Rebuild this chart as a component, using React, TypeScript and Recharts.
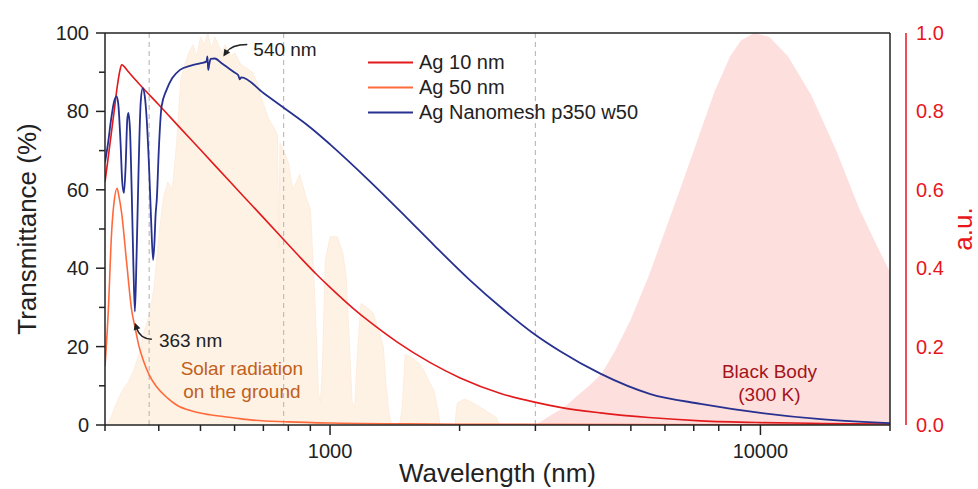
import { ComposedChart, Line, Area, XAxis, YAxis, ReferenceLine, ReferenceDot, Legend } from 'recharts'

const FONT = '"Liberation Sans", Arial, sans-serif'
const INK = '#222'
const AXIS_RED = '#e8151b'

// Ag 10 nm film, transmittance (%)
const ag10Wl = [300, 305, 310, 315, 320, 325, 328, 332, 340, 368, 400, 450, 500, 585, 650, 700, 779, 850, 931, 1000, 1133, 1250, 1430, 1709, 2006, 2500, 2969, 3426, 4247, 5500, 7260, 10000, 14000, 20000]
const ag10T = [62, 68, 74, 80, 86, 90.5, 91.9, 91.5, 90.1, 85.9, 81.7, 75.6, 70.2, 62.1, 56.7, 52.9, 47.4, 42.9, 38.4, 35.1, 29.7, 25.9, 21.2, 15.9, 12.0, 8.0, 5.9, 4.5, 3.1, 1.9, 1.05, 0.6, 0.4, 0.25]

// Ag 50 nm film
const ag50Wl = [300, 305, 311, 315, 320, 323, 328, 337, 346, 352, 360, 368, 380, 395, 420, 440, 480, 526, 600, 652, 800, 1000, 1500, 2000, 5000, 20000]
const ag50T = [15, 28, 49.7, 57, 60.4, 58.5, 54, 41.2, 29.3, 25.1, 20, 16.6, 12.8, 9.8, 6.8, 5.1, 3.5, 2.6, 1.8, 1.3, 0.8, 0.5, 0.3, 0.2, 0.1, 0.05]

// Ag nanomesh p350 w50
const meshWl = [300, 305, 310, 315, 319, 322, 326, 329, 332, 335, 338, 340, 343, 346, 349, 352, 355, 359, 363, 367, 371, 375, 380, 384, 388, 391, 393, 396, 400, 406, 417, 430, 448, 475, 501, 516, 519, 521, 524, 528, 540, 560, 600, 612, 617, 622, 700, 779, 900, 1000, 1239, 1500, 1750, 2116, 2500, 2964, 3426, 4247, 5550, 7260, 10000, 13800, 20000]
const meshT = [67, 72, 78, 82.5, 83.8, 82, 72, 62, 59.2, 66, 78, 79.6, 75, 60, 42, 28.9, 42, 65, 82, 85.9, 84, 78, 65, 52, 42.1, 47, 53.1, 58, 70, 81.2, 85.5, 88.5, 90.6, 91.7, 92.3, 92.7, 94, 90.6, 92, 93.4, 93.5, 92.3, 89.9, 89.2, 88.2, 88.7, 84.7, 81.0, 75.9, 71.6, 62.1, 53.1, 45.7, 36.9, 29.9, 23.4, 18.8, 13.1, 7.9, 5.4, 3.1, 1.5, 0.5]

// AM1.5 solar spectrum on the ground (arbitrary, drawn on the left scale)
const solarWl = [300, 305, 310, 320, 330, 340, 350, 360, 370, 380, 390, 400, 410, 420, 430, 440, 450, 460, 470, 480, 490, 500, 510, 520, 530, 540, 550, 560, 570, 590, 600, 620, 640, 660, 680, 690, 700, 720, 740, 755, 760, 765, 780, 800, 820, 850, 880, 900, 915, 930, 940, 950, 960, 975, 1000, 1040, 1070, 1090, 1110, 1125, 1140, 1160, 1180, 1220, 1260, 1300, 1330, 1350, 1370, 1390, 1450, 1470, 1495, 1540, 1600, 1650, 1700, 1740, 1780, 1800, 1950, 1975, 2050, 2100, 2230, 2350, 2430, 2480, 20000]
const solarV = [0, 0.5, 2, 6, 9, 11, 14, 18, 24, 28, 35, 48, 58, 62, 60, 72, 88, 92, 95, 97, 94, 99, 97, 100, 96, 99, 97, 95, 97, 94, 95, 92, 91, 90, 87, 84, 82, 78, 76, 74, 45, 72, 70, 67, 60, 64, 58, 55, 40, 22, 8, 6, 15, 42, 48, 48, 44, 38, 20, 6, 4, 20, 31, 30, 28.6, 24, 20, 10, 3, 0, 0, 4, 18, 17.4, 16, 14, 11, 9, 4, 0, 0, 5.6, 6.6, 6.2, 4.6, 3, 2, 0, 0]

// 300 K black body, normalised (right scale)
const bbWl = [3000, 3200, 3500, 3800, 4000, 4270, 4600, 5000, 5500, 5890, 6500, 7000, 7820, 8500, 9000, 9660, 10500, 11600, 13150, 15000, 17000, 18600, 20000]
const bbV = [0, 0.02, 0.045, 0.08, 0.1, 0.13, 0.19, 0.27, 0.38, 0.47, 0.6, 0.7, 0.85, 0.94, 0.98, 1.0, 0.99, 0.94, 0.84, 0.7, 0.55, 0.46, 0.39]

const xTicks = [300, 400, 500, 600, 700, 800, 900, 1000, 2000, 3000, 4000, 5000, 6000, 7000, 8000, 9000, 10000, 20000]
const xLabeled = [1000, 10000]
const leftTicks = [0, 10, 20, 30, 40, 50, 60, 70, 80, 90, 100]
const rightTicks = [0, 0.2, 0.4, 0.6, 0.8, 1.0]
const regionNames = ['UV', 'VIS', 'NIR', 'MIR']
const regionCenters = [339, 526, 1518, 8650]
const regionBounds = [380, 780, 3000]

const seriesNames = ['Ag 10 nm', 'Ag 50 nm', 'Ag Nanomesh p350 w50']
const seriesColors = ['#e31a1c', '#ff6a3d', '#27318f']

const toPoints = (wl: number[], vals: number[]) => wl.map((w, i) => ({ wl: w, v: vals[i] }))

function BottomTick({ x, y, payload }: any) {
  const major = xLabeled.includes(payload.value)
  return (
    <g>
      <line x1={x} x2={x} y1={y} y2={y + (major ? 10 : 6)} stroke={INK} strokeWidth={1.5} />
      {major && (
        <text x={x} y={y + 33} textAnchor="middle" fontSize={20} fontFamily={FONT} fill={INK}>
          {payload.value}
        </text>
      )}
    </g>
  )
}

function TopTick({ x, y, index }: any) {
  return (
    <text x={x} y={y - 7} textAnchor="middle" fontSize={16} fontFamily={FONT} fill={INK}>
      {regionNames[index]}
    </text>
  )
}

function LeftTick({ x, y, payload }: any) {
  const major = payload.value % 20 === 0
  return (
    <g>
      <line x1={x - (major ? 9 : 6)} x2={x} y1={y} y2={y} stroke={INK} strokeWidth={1.5} />
      {major && (
        <text x={x - 16} y={y} dy="0.35em" textAnchor="end" fontSize={20} fontFamily={FONT} fill={INK}>
          {payload.value}
        </text>
      )}
    </g>
  )
}

function RightTick({ x, y, payload }: any) {
  return (
    <text x={x + 10} y={y} dy="0.35em" textAnchor="start" fontSize={20} fontFamily={FONT} fill={AXIS_RED}>
      {payload.value.toFixed(1)}
    </text>
  )
}

const rotatedLabel = (text: string, dx: number, color: string) => (props: any) => {
  const { x, y, height } = props.viewBox
  const cx = x + dx
  const cy = y + height / 2
  return (
    <text x={cx} y={cy} dy="0.35em" textAnchor="middle" fontSize={26} fontFamily={FONT} fill={color} transform={`rotate(-90 ${cx} ${cy})`}>
      {text}
    </text>
  )
}

function LegendBox() {
  return (
    <div style={{ fontFamily: FONT, fontSize: 20, color: INK, lineHeight: '25px' }}>
      {seriesNames.map((name, i) => (
        <div key={name} style={{ display: 'flex', alignItems: 'center', height: 25, whiteSpace: 'nowrap' }}>
          <svg width={51} height={25}>
            <line x1={0} x2={45} y1={12.5} y2={12.5} stroke={seriesColors[i]} strokeWidth={2} />
          </svg>
          <span>{name}</span>
        </div>
      ))}
    </div>
  )
}

const arrow540 = ({ cx, cy }: any) => (
  <g>
    <path d={`M ${cx + 24} ${cy - 12} Q ${cx + 8} ${cy - 12} ${cx + 3} ${cy - 4}`} fill="none" stroke={INK} strokeWidth={1.5} />
    <polygon points={`${cx},${cy} ${cx + 6.8},${cy - 3.9} ${cx + 1},${cy - 7.7}`} fill={INK} />
    <text x={cx + 30} y={cy - 1} fontSize={19} fontFamily={FONT} fill={INK}>540 nm</text>
  </g>
)

const arrow363 = ({ cx, cy }: any) => (
  <g>
    <path d={`M ${cx + 17} ${cy + 16.6} Q ${cx + 5} ${cy + 16} ${cx + 1.5} ${cy + 5}`} fill="none" stroke={INK} strokeWidth={1.5} />
    <polygon points={`${cx},${cy} ${cx + 5.5},${cy + 5.5} ${cx - 1.1},${cy + 7.7}`} fill={INK} />
    <text x={cx + 24} y={cy + 24} fontSize={19} fontFamily={FONT} fill={INK}>363 nm</text>
  </g>
)

const twoLines = (a: string, b: string, color: string) => ({ cx, cy }: any) => (
  <text x={cx} y={cy} textAnchor="middle" fontSize={19} fontFamily={FONT} fill={color}>
    <tspan x={cx} dy={0}>{a}</tspan>
    <tspan x={cx} dy={23}>{b}</tspan>
  </text>
)

export default function App() {
  return (
    <div style={{ width: 978, height: 489 }}>
      <style>{'body{margin:0}'}</style>
      <ComposedChart width={978} height={489} margin={{ top: 13, right: 0, bottom: 0, left: 0 }}>
        <XAxis
          xAxisId="b"
          type="number"
          dataKey="wl"
          scale="log"
          domain={[300, 20000]}
          allowDataOverflow
          ticks={xTicks}
          interval={0}
          height={64}
          tickSize={0}
          tickMargin={0}
          tick={<BottomTick />}
          axisLine={{ stroke: INK, strokeWidth: 1.5 }}
          label={{ value: 'Wavelength (nm)', position: 'insideBottom', offset: 7, fontSize: 26, fontFamily: FONT, fill: INK }}
        />
        <XAxis
          xAxisId="t"
          orientation="top"
          type="number"
          scale="log"
          domain={[300, 20000]}
          allowDataOverflow
          ticks={regionCenters}
          interval={0}
          height={20}
          tickSize={0}
          tickMargin={0}
          tick={<TopTick />}
          axisLine={{ stroke: INK, strokeWidth: 1.5 }}
        />
        <YAxis
          yAxisId="left"
          type="number"
          domain={[0, 100]}
          allowDataOverflow
          ticks={leftTicks}
          interval={0}
          width={105}
          tickSize={0}
          tickMargin={0}
          tick={<LeftTick />}
          axisLine={{ stroke: INK, strokeWidth: 1.5 }}
          label={{ content: rotatedLabel('Transmittance (%)', 27, INK) }}
        />
        <YAxis
          yAxisId="frame"
          orientation="right"
          type="number"
          domain={[0, 1]}
          width={16}
          tick={false}
          tickLine={false}
          axisLine={{ stroke: INK, strokeWidth: 1.5 }}
        />
        <YAxis
          yAxisId="right"
          orientation="right"
          type="number"
          domain={[0, 1]}
          allowDataOverflow
          ticks={rightTicks}
          interval={0}
          width={72}
          tickSize={0}
          tickMargin={0}
          tickLine={false}
          tick={<RightTick />}
          axisLine={{ stroke: AXIS_RED, strokeWidth: 1.5 }}
          label={{ content: rotatedLabel('a.u.', 57, AXIS_RED) }}
        />

        <Area
          xAxisId="b"
          yAxisId="left"
          data={toPoints(solarWl, solarV)}
          dataKey="v"
          type="linear"
          fill="#fef2e5"
          fillOpacity={1}
          stroke="#fdeada"
          strokeWidth={0.8}
          isAnimationActive={false}
        />
        <Area
          xAxisId="b"
          yAxisId="right"
          data={toPoints(bbWl, bbV)}
          dataKey="v"
          type="linear"
          fill="#fde0dd"
          fillOpacity={1}
          stroke="none"
          isAnimationActive={false}
        />
        {regionBounds.map((w) => (
          <ReferenceLine key={w} xAxisId="b" yAxisId="left" x={w} stroke="#bdbdbd" strokeDasharray="5 4" strokeWidth={1.2} />
        ))}

        <Line xAxisId="b" yAxisId="left" data={toPoints(ag10Wl, ag10T)} dataKey="v" name={seriesNames[0]} type="monotone" stroke={seriesColors[0]} strokeWidth={1.6} dot={false} isAnimationActive={false} />
        <Line xAxisId="b" yAxisId="left" data={toPoints(ag50Wl, ag50T)} dataKey="v" name={seriesNames[1]} type="monotone" stroke={seriesColors[1]} strokeWidth={1.6} dot={false} isAnimationActive={false} />
        <Line xAxisId="b" yAxisId="left" data={toPoints(meshWl, meshT)} dataKey="v" name={seriesNames[2]} type="monotone" stroke={seriesColors[2]} strokeWidth={1.8} dot={false} isAnimationActive={false} />

        <ReferenceDot xAxisId="b" yAxisId="left" x={565} y={94} shape={arrow540} />
        <ReferenceDot xAxisId="b" yAxisId="left" x={352} y={26.1} shape={arrow363} />
        <ReferenceDot xAxisId="b" yAxisId="left" x={624} y={12.8} shape={twoLines('Solar radiation', 'on the ground', '#c0601a')} />
        <ReferenceDot xAxisId="b" yAxisId="left" x={10494} y={12} shape={twoLines('Black Body', '(300 K)', '#a3141c')} />

        <Legend
          layout="vertical"
          align="center"
          verticalAlign="middle"
          content={() => <LegendBox />}
          wrapperStyle={{ left: 368, top: 50, width: 320 }}
        />
      </ComposedChart>
    </div>
  )
}
